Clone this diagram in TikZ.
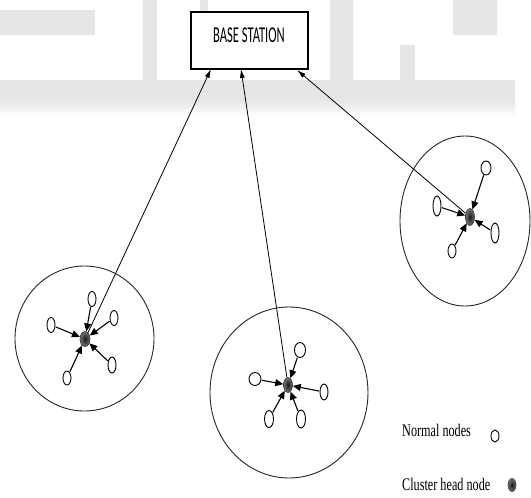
\documentclass[tikz,border=0pt]{standalone}
\usepackage{fontspec}
\setmainfont{Liberation Serif}
\newfontfamily\bsfont{Carlito}
\usepackage{graphicx}
\usetikzlibrary{shapes.geometric,arrows.meta}
\definecolor{wm}{HTML}{E6E6E6}
\tikzset{
  nn/.style={draw=black, line width=0.9pt, fill=white, ellipse, inner sep=0pt,
             minimum width=8pt, minimum height=15pt},
  ch/.style={draw=black!80, line width=0.6pt, ellipse, inner sep=0pt,
             shading=radial, inner color=black!90, outer color=black!55,
             minimum width=9pt, minimum height=15pt},
  zone/.style={draw=black!85, line width=0.9pt},
  feed/.style={draw=black, line width=1.1pt, shorten <=0.5pt,
               -{Triangle[length=8pt,width=7pt]}},
  uplink/.style={draw=black, line width=0.8pt, -{Latex[length=9pt,width=5pt]}},
  legend/.style={anchor=base west, inner sep=0pt, font=\fontsize{12.2}{14}\selectfont},
}
\begin{document}
\begin{tikzpicture}[x=1pt, y=-1pt]
\useasboundingbox (0,0) rectangle (531,498);

% faint background lettering
\fill[wm] (0,10) rectangle (95,35);
\fill[wm] (143,0) rectangle (157,82);
\fill[wm] (200,0) rectangle (208,12);
\fill[wm] (330,0) rectangle (353,82);
\fill[wm] (400,45) rectangle (415,82);
\fill[wm] (453,0) rectangle (497,35);
\fill[wm] (0,80) rectangle (515,100);
\shade[top color=wm, bottom color=white] (0,100) rectangle (515,116);

% base station
\node[draw=black, line width=1.2pt, fill=white, minimum width=117pt, minimum height=57pt,
      inner sep=0pt] (bs) at (249.5,40.5) {};
\node[inner sep=0pt, font=\bsfont\fontsize{12.6}{14}\selectfont] (bslabel) at (249,35.5)
      {\scalebox{1}[1.8]{BASE STATION}};
\coordinate (t1) at (211,69);
\coordinate (t2) at (241,69);
\coordinate (t3) at (297,70);

% cluster zones
\draw[zone] (84.5,338.5) ellipse [x radius=69.5pt, y radius=72.5pt];
\draw[zone] (289,392.5) ellipse [x radius=79pt, y radius=85.5pt];
\draw[zone] (465,221) ellipse [x radius=65pt, y radius=85pt];

% left cluster
\node[ch, minimum width=10pt] (h1) at (85,339) {};
\node[nn] (a1) at (92,299) {};
\node[nn] (a2) at (114,318) {};
\node[nn] (a3) at (51,325) {};
\node[nn, minimum height=16pt] (a4) at (112,365) {};
\node[nn, minimum height=14pt] (a5) at (67,378) {};

% middle cluster
\node[ch] (h2) at (288,385) {};
\node[nn, minimum width=11pt] (b1) at (300,350) {};
\node[nn, minimum width=12pt, minimum height=13pt] (b2) at (255,379) {};
\node[nn, minimum height=16pt] (b3) at (324,392) {};
\node[nn, minimum width=9pt, minimum height=17pt] (b4) at (269,419) {};
\node[nn, minimum width=9pt, minimum height=18pt] (b5) at (301,419) {};

% right cluster
\node[ch, minimum height=17pt] (h3) at (470,217) {};
\node[nn, minimum width=10pt, minimum height=14pt] (c1) at (486,168) {};
\node[nn, minimum height=20pt] (c2) at (437,206) {};
\node[nn, minimum height=20pt] (c3) at (495,233) {};
\node[nn, minimum height=14pt] (c4) at (452,251) {};

% links to the base station
\draw[uplink] (h1) -- (t1);
\draw[uplink] (h2) -- (t2);
\draw[uplink] (h3) -- (t3);

% member nodes reporting to their cluster heads
\foreach \m in {a1,a2,a3,a4,a5} \draw[feed] (\m) -- (h1);
\foreach \m in {b1,b2,b3,b4,b5} \draw[feed] (\m) -- (h2);
\foreach \m in {c1,c2,c3,c4} \draw[feed] (\m) -- (h3);

% legend
\node[legend] (lgn) at (402,436.7) {\scalebox{1}[1.45]{Normal nodes}};
\node[nn, minimum height=12pt] (lgnsym) at (495,436) {};
\node[legend] (lgc) at (402,490) {\scalebox{1}[1.45]{Cluster head node}};
\node[ch, minimum width=8pt, minimum height=13pt] (lgcsym) at (512,485) {};
\end{tikzpicture}
\end{document}
